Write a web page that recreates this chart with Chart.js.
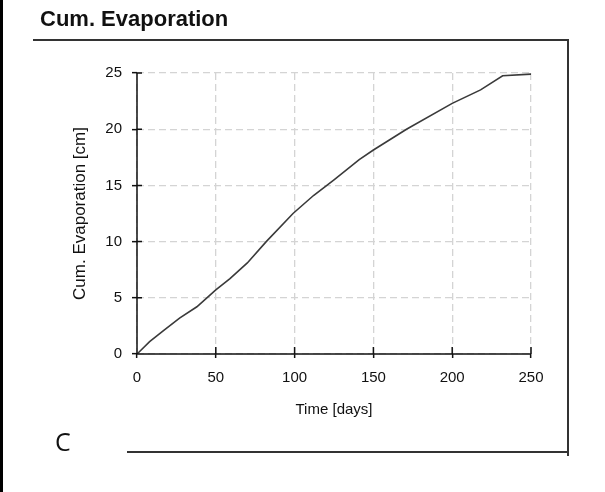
<!DOCTYPE html>
<html>
<head>
<meta charset="utf-8">
<script src="https://cdn.jsdelivr.net/npm/chart.js@4/dist/chart.umd.min.js"></script>
<style>
  html, body { margin: 0; padding: 0; background: #fff; }
  #page { position: relative; width: 605px; height: 492px; overflow: hidden; }
  #evapChart { position: absolute; left: 0; top: 0; }
  .rule { position: absolute; background: #333; }
  #panelTitle {
    position: absolute; left: 40px; top: 6px;
    font: bold 22px "Liberation Sans", Arial, sans-serif; color: #111;
  }
  #panelLetter {
    position: absolute; left: 55px; top: 424px;
    font: 25px "Open Sans", "Noto Sans", sans-serif; color: #111;
  }
</style>
</head>
<body>
<div id="page">
  <canvas id="evapChart" width="605" height="492"></canvas>
  <div class="rule" style="left:0;top:0;width:3px;height:492px;background:#000"></div>
  <div id="panelTitle">Cum. Evaporation</div>
  <div class="rule" style="left:33px;top:39px;width:536px;height:2px"></div>
  <div class="rule" style="left:567px;top:39px;width:2px;height:417px"></div>
  <div class="rule" style="left:127px;top:451px;width:442px;height:2px"></div>
  <div id="panelLetter">C</div>
</div>
<script>
// cumulative evaporation over the season
const days = [0, 8, 17, 27, 38, 50, 59, 70, 82, 99, 112, 125, 141, 150, 171, 200, 218, 232, 250];
const cumEvap = [0, 1.1, 2.1, 3.2, 4.2, 5.7, 6.7, 8.1, 10.0, 12.5, 14.1, 15.5, 17.3, 18.15, 20.0, 22.3, 23.5, 24.75, 24.9];

const xTicks = [0, 50, 100, 150, 200, 250];
const yTicks = [0, 5, 10, 15, 20, 25];

const FONT = '"Liberation Sans", Arial, sans-serif';

// solid axis lines plus short tick stubs pointing into the plot
const axisLines = {
  id: 'axisLines',
  afterDraw(chart) {
    const { ctx, chartArea, scales } = chart;
    const { left, bottom, top, right } = chartArea;
    ctx.save();
    ctx.strokeStyle = '#111';
    ctx.lineWidth = 1.5;
    ctx.setLineDash([]);
    ctx.beginPath();
    ctx.moveTo(left, top);
    ctx.lineTo(left, bottom);
    ctx.lineTo(right, bottom);
    xTicks.forEach(v => {
      const x = scales.x.getPixelForValue(v);
      ctx.moveTo(x, bottom);
      ctx.lineTo(x, bottom - 7);
    });
    yTicks.forEach(v => {
      const y = scales.y.getPixelForValue(v);
      ctx.moveTo(left, y);
      ctx.lineTo(left + 5, y);
    });
    ctx.stroke();
    ctx.restore();
  }
};

const gridStyle = (tickLength) => ({
  color: '#d4d4d4', lineWidth: 1.3,
  tickColor: '#111', tickLength, tickWidth: 1.5, tickBorderDash: []
});

const ctx = document.getElementById('evapChart').getContext('2d');
new Chart(ctx, {
  type: 'line',
  data: {
    datasets: [{
      data: days.map((d, i) => ({ x: d, y: cumEvap[i] })),
      borderColor: '#3a3a3a',
      borderWidth: 1.6,
      pointRadius: 0,
      tension: 0,
      fill: false
    }]
  },
  options: {
    responsive: false,
    animation: false,
    layout: { padding: { left: 40, right: 74, top: 73, bottom: 70 } },
    plugins: { legend: { display: false }, tooltip: { enabled: false } },
    scales: {
      x: {
        type: 'linear',
        min: 0,
        max: 250,
        afterFit: s => { s.height = 68; },
        afterBuildTicks: s => { s.ticks = xTicks.map(v => ({ value: v })); },
        ticks: { color: '#111', font: { family: FONT, size: 15 }, padding: 11, maxRotation: 0 },
        grid: gridStyle(4),
        border: { display: false, dash: [7, 4] },
        title: {
          display: true, text: 'Time [days]', color: '#111',
          font: { family: FONT, size: 15 }, padding: { top: 0, bottom: 3 }
        }
      },
      y: {
        min: 0,
        max: 25,
        afterFit: s => { s.width = 97; },
        afterBuildTicks: s => { s.ticks = yTicks.map(v => ({ value: v })); },
        ticks: { color: '#111', font: { family: FONT, size: 15 }, padding: 10 },
        grid: gridStyle(5),
        border: { display: false, dash: [7, 4] },
        title: {
          display: true, text: 'Cum. Evaporation [cm]', color: '#111',
          font: { family: FONT, size: 17 }, padding: { top: 30, bottom: 0 }
        }
      }
    }
  },
  plugins: [axisLines]
});
</script>
</body>
</html>
